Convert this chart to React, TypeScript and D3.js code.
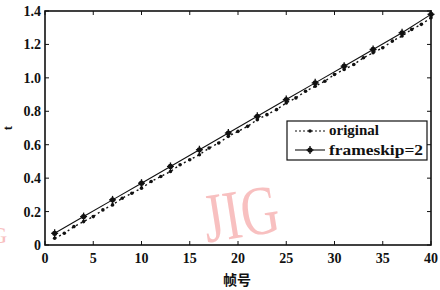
import React from "react";
import * as d3 from "d3";

const frames = d3.range(1, 41);
const originalValues = [0.04, 0.07, 0.11, 0.14, 0.17, 0.21, 0.24, 0.28, 0.31, 0.34, 0.38, 0.41, 0.44, 0.48, 0.51, 0.54, 0.58, 0.61, 0.65, 0.68, 0.71, 0.75, 0.78, 0.81, 0.85, 0.88, 0.92, 0.95, 0.98, 1.02, 1.05, 1.08, 1.12, 1.15, 1.18, 1.22, 1.25, 1.29, 1.32, 1.36];
const skipFrames = [1, 4, 7, 10, 13, 16, 19, 22, 25, 28, 31, 34, 37, 40];
const skipValues = [0.07, 0.17, 0.27, 0.37, 0.47, 0.57, 0.67, 0.77, 0.87, 0.97, 1.07, 1.17, 1.27, 1.38];
const xTicks = [0, 5, 10, 15, 20, 25, 30, 35, 40];
const yTicks = [0, 0.2, 0.4, 0.6, 0.8, 1.0, 1.2, 1.4];
const yTickLabels = ["0", "0.2", "0.4", "0.6", "0.8", "1.0", "1.2", "1.4"];
const seriesNames = ["original", "frameskip=2"];

const L = 45, R = 431, T = 11, B = 245;
const serif = "'Liberation Serif', 'DejaVu Serif', serif";

export default function App() {
  const x = d3.scaleLinear().domain([0, 40]).range([L, R]);
  const y = d3.scaleLinear().domain([0, 1.4]).range([B, T]);
  const line = d3.line<[number, number]>().x(d => x(d[0])).y(d => y(d[1]));
  const orig: [number, number][] = frames.map((f, i) => [f, originalValues[i]]);
  const skip: [number, number][] = skipFrames.map((f, i) => [f, skipValues[i]]);

  const marker = (cx: number, cy: number, key: string) => (
    <g key={key}>
      <circle cx={cx} cy={cy} r={2.6} fill="#111" />
      <line x1={cx} x2={cx} y1={cy - 4} y2={cy + 4} stroke="#111" strokeWidth={1.3} />
      <line x1={cx - 3.5} x2={cx + 3.5} y1={cy} y2={cy} stroke="#111" strokeWidth={1.3} />
    </g>
  );

  return (
    <svg width={440} height={290} style={{ position: "absolute", left: 0, top: 0, background: "#fff" }}>
      <rect width={440} height={290} fill="#fff" />
      {/* watermark */}
      <text x={202} y={237} fontFamily={serif} fontSize={70} fill="#f8c0c0" transform="rotate(-9 240 208)" textLength={76} lengthAdjust="spacingAndGlyphs">JIG</text>
      <text x={-10} y={243} fontFamily={serif} fontSize={24} fill="#f8c0c0">G</text>

      {/* series original */}
      <path d={line(orig) || ""} fill="none" stroke="#111" strokeWidth={1.4} strokeDasharray="2 3" />
      {orig.map((d, i) => (
        <circle key={"o" + i} cx={x(d[0])} cy={y(d[1])} r={1.8} fill="#111" />
      ))}
      {/* series frameskip */}
      <path d={line(skip) || ""} fill="none" stroke="#111" strokeWidth={1.1} />
      {skip.map((d, i) => marker(x(d[0]), y(d[1]), "s" + i))}

      {/* frame */}
      <rect x={L} y={T} width={R - L} height={B - T} fill="none" stroke="#111" strokeWidth={1.6} />
      {xTicks.map(t => (
        <g key={"xt" + t}>
          <line x1={x(t)} x2={x(t)} y1={B} y2={B - 4} stroke="#111" strokeWidth={1} />
          <line x1={x(t)} x2={x(t)} y1={T} y2={T + 4} stroke="#111" strokeWidth={1} />
          <text x={x(t)} y={B + 18} textAnchor="middle" fontFamily={serif} fontWeight="bold" fontSize={14} fill="#111">{t}</text>
        </g>
      ))}
      {yTicks.map((t, i) => (
        <g key={"yt" + t}>
          <line x1={L} x2={L + 4} y1={y(t)} y2={y(t)} stroke="#111" strokeWidth={1} />
          <line x1={R} x2={R - 4} y1={y(t)} y2={y(t)} stroke="#111" strokeWidth={1} />
          <text x={L - 4} y={y(t) + 5} textAnchor="end" fontFamily={serif} fontWeight="bold" fontSize={14} fill="#111">{yTickLabels[i]}</text>
        </g>
      ))}

      {/* axis labels */}
      <text x={237} y={285} textAnchor="middle" fontFamily="'Noto Sans CJK SC', sans-serif" fontWeight="bold" fontSize={14} fill="#111">帧号</text>
      <text transform="translate(12 128) rotate(-90)" textAnchor="middle" fontFamily={serif} fontWeight="bold" fontSize={13} fill="#111">t</text>

      {/* legend */}
      <rect x={287} y={121} width={140} height={39} fill="#fff" stroke="#111" strokeWidth={1.2} />
      <line x1={295} x2={325} y1={131} y2={131} stroke="#111" strokeWidth={1.2} strokeDasharray="2 2" />
      <circle cx={310} cy={131} r={1.8} fill="#111" />
      <text x={329} y={135} fontFamily={serif} fontWeight="bold" fontSize={15} fill="#111">{seriesNames[0]}</text>
      <line x1={295} x2={325} y1={150} y2={150} stroke="#111" strokeWidth={1.1} />
      {marker(310, 150, "leg")}
      <text x={329} y={155} fontFamily={serif} fontWeight="bold" fontSize={15} textLength={94} lengthAdjust="spacingAndGlyphs" fill="#111">{seriesNames[1]}</text>
    </svg>
  );
}
